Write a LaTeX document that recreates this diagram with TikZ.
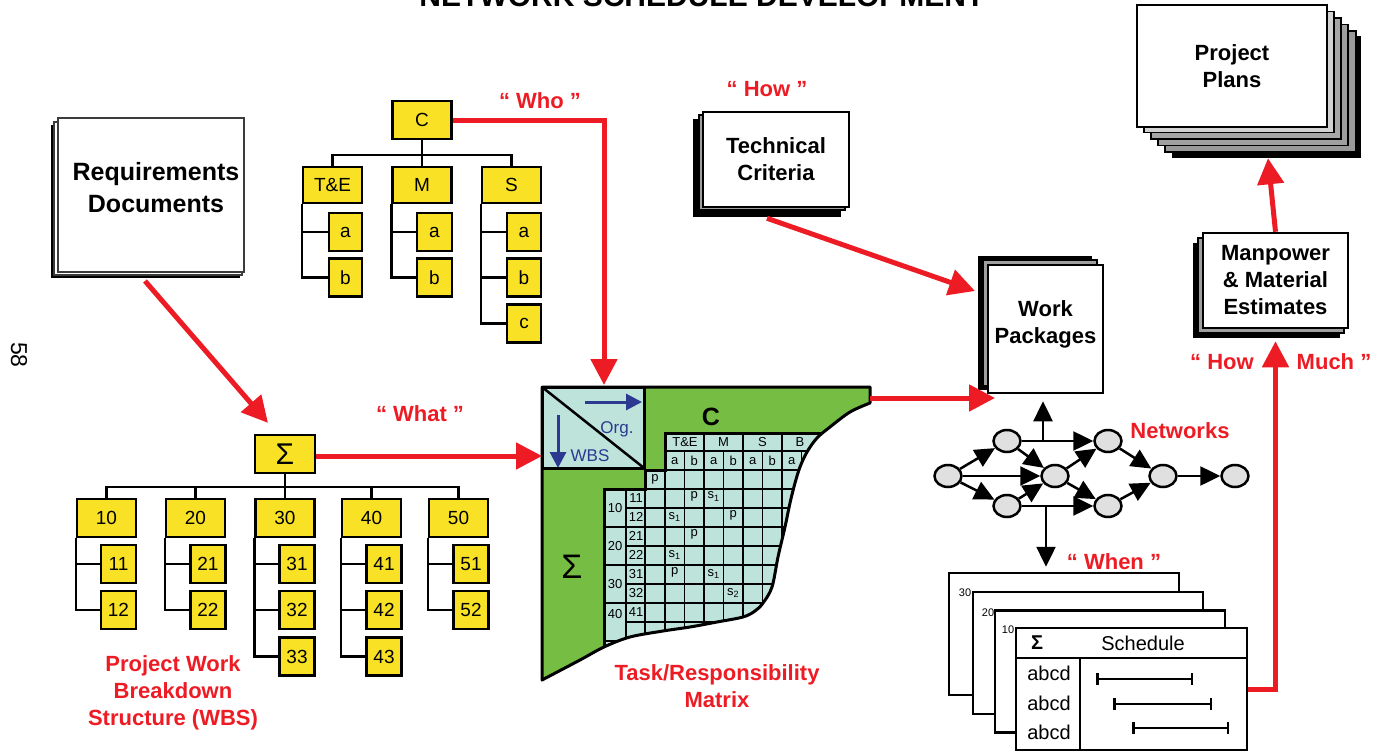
\documentclass[tikz,border=0pt]{standalone}
\usepackage{fontspec}
\setmainfont{Liberation Sans}
\usetikzlibrary{arrows.meta,shapes.geometric,calc}
\definecolor{rd}{RGB}{237,28,36}
\definecolor{ylw}{RGB}{249,226,38}
\definecolor{grn}{RGB}{118,189,67}
\definecolor{cyn}{RGB}{189,227,219}
\definecolor{bl}{RGB}{43,57,144}
\definecolor{ngray}{RGB}{224,224,224}
\definecolor{dgray}{RGB}{60,60,60}
\begin{document}
\begin{tikzpicture}[x=1pt,y=-1pt,
 conn/.style={line width=2.2pt},
 ybox/.style={draw, fill=ylw, line width=2.2pt, inner sep=0pt, font=\fontsize{19}{19}\selectfont},
 ytop/.style={ybox, minimum width=59pt, minimum height=38pt},
 ysub/.style={ybox, minimum width=35pt, minimum height=38pt},
 rarrow/.style={draw=rd, line width=5pt, -{Triangle[length=26pt,width=26pt]}},
 narrow/.style={line width=2.5pt, -{Triangle[length=20pt,width=19pt]}},
 barrow/.style={draw=bl, line width=3pt, -{Triangle[length=16pt,width=16pt]}},
 rlabel/.style={text=rd, font=\fontsize{22}{27}\selectfont\bfseries, align=center},
 blabel/.style={font=\fontsize{22}{27}\selectfont\bfseries, align=center},
 frontbox/.style={draw, line width=2.5pt, fill=white, inner sep=0pt},
 layer/.style={draw, line width=1.8pt},
 net/.style={ellipse, draw, fill=ngray, line width=2.5pt, minimum width=27pt, minimum height=22pt, inner sep=0pt},
 mtext/.style={font=\fontsize{13}{13}\selectfont, inner sep=0pt},
 sheet/.style={draw, line width=2.5pt, fill=white, minimum width=230pt, minimum height=122pt, inner sep=0pt},
 stxt/.style={font=\fontsize{20}{20}\selectfont, inner sep=0pt},
]
\useasboundingbox (0,0) rectangle (1374,752);

% title and page number
\node[anchor=base, font=\fontsize{30}{30}\selectfont\bfseries] (title) at (702,7) {NETWORK SCHEDULE DEVELOPMENT};
\node[rotate=-90, font=\fontsize{23}{23}\selectfont] (pg) at (19,355) {58};

% ---------- Requirements Documents ----------
\fill[black] (51,125) rectangle (240,278);
\draw[draw=dgray, line width=1.5pt, fill=white] (54,122) rectangle (242,275);
\node[frontbox, draw=dgray, line width=2pt, minimum width=186pt, minimum height=154pt] (Req) at (151,195) {};
\node[blabel, font=\fontsize{25}{32}\selectfont\bfseries] (ReqT) at (156,188) {Requirements\\Documents};

% ---------- Org chart ----------
\node[ytop] (C) at (422,120) {C};
\node[ytop, minimum height=36pt] (TE) at (332.5,185) {T\&E};
\node[ytop, minimum height=36pt] (M) at (422,185) {M};
\node[ytop, minimum height=36pt] (S) at (511.5,185) {S};
\node[ysub, minimum width=33pt] (TEa) at (345.5,232) {a};
\node[ysub, minimum width=33pt] (TEb) at (345.5,277.5) {b};
\node[ysub, minimum width=35pt] (Ma) at (434.5,232) {a};
\node[ysub, minimum width=35pt] (Mb) at (434.5,277.5) {b};
\node[ysub, minimum width=34pt] (Sa) at (524,232) {a};
\node[ysub, minimum width=34pt] (Sb) at (524,277.5) {b};
\node[ysub, minimum width=34pt] (Sc) at (524,323.5) {c};
\draw[conn] (C) -- (M);
\draw[conn] (TE.north) -- ++(0,-11) -| (S.north);
\draw[conn] (TE.south west) |- (TEb.west);
\draw[conn] (TEa.west) -- (TEa.west -| TE.west);
\draw[conn] (M.south west) |- (Mb.west);
\draw[conn] (Ma.west) -- (Ma.west -| M.west);
\draw[conn] (S.south west) |- (Sc.west);
\draw[conn] (Sa.west) -- (Sa.west -| S.west);
\draw[conn] (Sb.west) -- (Sb.west -| S.west);

% ---------- WBS ----------
\node[ybox, minimum width=60pt, minimum height=38pt, font=\fontsize{30}{30}\selectfont] (Sig) at (285,454) {Σ};
\node[ytop] (W10) at (106.5,518) {10};
\node[ytop] (W20) at (195.5,518) {20};
\node[ytop] (W30) at (285,518) {30};
\node[ytop] (W40) at (371.5,518) {40};
\node[ytop] (W50) at (458.5,518) {50};
\node[ysub] (W11) at (118.5,564) {11};
\node[ysub] (W12) at (118.5,610) {12};
\node[ysub] (W21) at (208,564) {21};
\node[ysub] (W22) at (208,610) {22};
\node[ysub] (W31) at (297,564) {31};
\node[ysub] (W32) at (297,610) {32};
\node[ysub] (W33) at (297,656.5) {33};
\node[ysub] (W41) at (384,564) {41};
\node[ysub] (W42) at (384,610) {42};
\node[ysub] (W43) at (384,656.5) {43};
\node[ysub] (W51) at (471,564) {51};
\node[ysub] (W52) at (471,610) {52};
\draw[conn] (Sig) -- (W30);
\draw[conn] (W10.north) -- ++(0,-11) -| (W50.north);
\draw[conn] (W20.north) -- ++(0,-11);
\draw[conn] (W40.north) -- ++(0,-11);
\draw[conn] (W10.south west) |- (W12.west);
\draw[conn] (W11.west) -- (W11.west -| W10.west);
\draw[conn] (W20.south west) |- (W22.west);
\draw[conn] (W21.west) -- (W21.west -| W20.west);
\draw[conn] (W30.south west) |- (W33.west);
\draw[conn] (W31.west) -- (W31.west -| W30.west);
\draw[conn] (W32.west) -- (W32.west -| W30.west);
\draw[conn] (W40.south west) |- (W43.west);
\draw[conn] (W41.west) -- (W41.west -| W40.west);
\draw[conn] (W42.west) -- (W42.west -| W40.west);
\draw[conn] (W50.south west) |- (W52.west);
\draw[conn] (W51.west) -- (W51.west -| W50.west);

% ---------- Matrix ----------
\def\outerpath{(542,387) -- (870,387) -- (870,403) -- plot[smooth, tension=0.55] coordinates {(870,403) (850,412) (830,427) (817,438) (807,452) (800,467) (795,483) (790,503) (785,527) (778,557) (772,587) (763,603) (755,611) (743,617) (717,622) (690,627) (663,631) (630,637) (604,647) (580,660) (542,680)} -- cycle}
\fill[grn] \outerpath;
\begin{scope}
 \clip \outerpath;
 \begin{scope}
  \clip (665,433) -- (950,433) -- (950,720) -- (604,720) -- (604,489) -- (645,489) -- (645,470) -- (665,470) -- cycle;
  \fill[cyn] (600,430) rectangle (950,720);
  \begin{scope}[line width=1.8pt]
   \draw (665,451) -- (950,451);
   \draw (645,470) -- (950,470);
   \draw (604,489) -- (950,489);
   \foreach \k in {1,...,8}{
     \pgfmathsetmacro\yy{489+18.95*\k}
     \ifodd\k \draw (626,\yy) -- (950,\yy); \else \draw (604,\yy) -- (950,\yy); \fi
   }
   \draw (626,489) -- (626,720);
   \draw (645,470) -- (645,720);
   \foreach \j in {0,...,10}{
     \pgfmathsetmacro\xx{665+19.5*\j}
     \ifodd\j \draw (\xx,451) -- (\xx,720); \else \draw (\xx,433) -- (\xx,720); \fi
   }
  \end{scope}
 \end{scope}
 \draw[line width=3pt] (604,720) -- (604,489) -- (645,489) -- (645,470) -- (665,470) -- (665,433) -- (950,433);
\end{scope}
\draw[line width=3pt, fill=cyn] (542,387) rectangle (644,468);
\draw[line width=2.5pt] (542,387) -- (644,468);
\draw[line width=3pt, line join=round] \outerpath;
\coordinate (oa1) at (585,402);
\coordinate (oa2) at (642,402);
\coordinate (wa1) at (558,415);
\coordinate (wa2) at (558,468);
\draw[barrow] (oa1) -- (oa2);
\draw[barrow] (wa1) -- (wa2);
\node[text=bl, font=\fontsize{17}{17}\selectfont] (org) at (617,429) {Org.};
\node[text=bl, font=\fontsize{17}{17}\selectfont] (wbs) at (590,456) {WBS};
\node[font=\fontsize{25}{25}\selectfont\bfseries] (mc) at (711,417) {C};
\node[font=\fontsize{34}{34}\selectfont] (ms) at (572,567) {Σ};
% header
\node[mtext] at (685,442) {T\&E};
\node[mtext] at (723.5,442) {M};
\node[mtext] at (762.5,442) {S};
\node[mtext] at (800,442) {B};
\foreach \t [count=\i from 0] in {a,b,a,b,a,b,a}{
  \node[mtext] at ({674.75+19.5*\i},461) {\t};
}
\node[mtext] at (655,479.5) {p};
% row labels
\node[mtext] at (615,508) {10};
\node[mtext] at (615,546) {20};
\node[mtext] at (615,584) {30};
\node[mtext] at (615,614) {40};
\foreach \t [count=\i from 0] in {11,12,21,22,31,32,41}{
  \node[mtext] at (636,{498.5+18.95*\i}) {\t};
}
% entries
\node[mtext] at (694.25,496.5) {p};
\node[mtext] at (713.75,496.5) {s\textsubscript{1}};
\node[mtext] at (674.75,517.4) {s\textsubscript{1}};
\node[mtext] at (733.25,515.4) {p};
\node[mtext] at (694.25,534.4) {p};
\node[mtext] at (674.75,555.3) {s\textsubscript{1}};
\node[mtext] at (674.75,572.3) {p};
\node[mtext] at (713.75,574.3) {s\textsubscript{1}};
\node[mtext] at (733.25,593.2) {s\textsubscript{2}};

% ---------- Technical Criteria ----------
\fill[black] (693,119) rectangle (841,217);
\draw[layer, fill=gray!75] (699,115) rectangle (845,210);
\node[frontbox, blabel, minimum width=146pt, minimum height=95pt] (TC) at (776,159.5) {Technical\\Criteria};

% ---------- Work Packages ----------
\fill[black] (978,256) rectangle (1092,390);
\draw[layer, fill=gray!75] (983,260) rectangle (1097,386);
\node[frontbox, minimum width=115pt, minimum height=128pt] (WP) at (1045.5,329) {};
\node[blabel] (WPt) at (1045.5,324) {Work\\Packages};

% ---------- Manpower ----------
\fill[black] (1193,243) rectangle (1340,338);
\draw[layer, fill=gray!75] (1198,238) rectangle (1344,333);
\node[frontbox, blabel, minimum width=145pt, minimum height=95pt] (MP) at (1275.5,280.5) {Manpower\\\& Material\\Estimates};

% ---------- Project Plans ----------
\fill[black] (1172,36) rectangle (1361,158);
\draw[layer, fill=gray!80] (1165,31) rectangle (1356,152);
\draw[layer, fill=gray!75] (1158,24.5) rectangle (1348,145.5);
\draw[layer, fill=gray!70] (1151,18) rectangle (1341,139);
\draw[layer, fill=gray!35] (1144,11.5) rectangle (1334,132.5);
\node[frontbox, blabel, minimum width=190pt, minimum height=122pt] (PP) at (1232,66) {Project\\Plans};

% ---------- Networks ----------
\node[net] (n0) at (948,476) {};
\node[net] (n1) at (1007,441) {};
\node[net] (n2) at (1007,506) {};
\node[net] (n3) at (1055,476) {};
\node[net] (n4) at (1108,441) {};
\node[net] (n5) at (1108,506) {};
\node[net] (n6) at (1163,476) {};
\node[net] (n7) at (1235,476) {};
\draw[narrow] (n0) -- (n1);
\draw[narrow] (n0) -- (n2);
\draw[narrow] (n0) -- (n3);
\draw[narrow] (n1) -- (n3);
\draw[narrow] (n2) -- (n3);
\draw[narrow] (n1) -- (n4);
\draw[narrow] (n2) -- (n5);
\draw[narrow] (n3) -- (n4);
\draw[narrow] (n3) -- (n5);
\draw[narrow] (n4) -- (n6);
\draw[narrow] (n5) -- (n6);
\draw[narrow] (n6) -- (n7);

% ---------- Schedule sheets ----------
\node[sheet] (Sh30) at (1064,634) {};
\node[font=\fontsize{11}{11}\selectfont] at (965,593) {30};
\node[sheet] (Sh20) at (1088,653) {};
\node[font=\fontsize{11}{11}\selectfont] at (988,613) {20};
\node[sheet] (Sh10) at (1110,671.5) {};
\node[font=\fontsize{11}{11}\selectfont] at (1008,630) {10};
\node[sheet, minimum width=231pt] (Sch) at (1131.5,689) {};
\draw[line width=2.5pt] (Sch.west |- 0,658) -- (Sch.east |- 0,658);
\draw[line width=2.5pt] (1080,658) -- (1080,750);
\node[stxt, font=\fontsize{20}{20}\selectfont\bfseries] at (1037,643) {Σ};
\node[stxt] at (1143,643) {Schedule};
\node[stxt] at (1049,673) {abcd};
\node[stxt] at (1049,703) {abcd};
\node[stxt] at (1049,732) {abcd};
\draw[line width=2.5pt, {Bar[width=12pt]}-{Bar[width=12pt]}] (1096,679) -- (1193,679);
\draw[line width=2.5pt, {Bar[width=12pt]}-{Bar[width=12pt]}] (1113,704) -- (1212,704);
\draw[line width=2.5pt, {Bar[width=12pt]}-{Bar[width=12pt]}] (1132,728) -- (1229,728);

% network <-> packages / schedule
\coordinate (nu) at (1043,441);
\coordinate (nd) at (1046,506);
\draw[narrow] (nu) -- ([xshift=-2.5pt,yshift=-7pt]WP.south);
\draw[narrow] (nd) -- ([xshift=-18pt,yshift=5pt]Sh30.north);

% ---------- red arrows ----------
\coordinate (mtop) at (604,385);
\coordinate (mleft) at (542,456);
\coordinate (mright) at (870,398);
\coordinate (wpin) at (995,398);
\coordinate (wptop) at (975,291);
\draw[rarrow] ([xshift=-6pt,yshift=-8pt]Req.south) -- ([xshift=-17pt,yshift=11pt]Sig.north);
\draw[rarrow] (C.east) -| (mtop);
\draw[rarrow] (Sig.east |- mleft) -- (mleft);
\draw[rarrow] ([xshift=-9pt,yshift=-10pt]TC.south) -- (wptop);
\draw[rarrow] (mright) -- (wpin);
\draw[rarrow] (Sch.east) -| ([yshift=-12pt]MP.south);
\draw[rarrow] (MP.north) -- ([xshift=36pt,yshift=-30pt]PP.south);

% ---------- red labels ----------
\node[rlabel] (lwho) at (540,101) {“ Who ”};
\node[rlabel] (lhow) at (767,89) {“ How ”};
\node[rlabel] (lwhat) at (420,414) {“ What ”};
\node[rlabel] (lwhen) at (1114,562) {“ When ”};
\node[rlabel] (lhow2) at (1222,362) {“ How};
\node[rlabel] (lmuch) at (1334,362) {Much ”};
\node[rlabel] (lnet) at (1180,431) {Networks};
\node[rlabel] (ltrm) at (717,686.5) {Task/Responsibility\\Matrix};
\node[rlabel] (lwbs) at (173,692.5) {Project Work\\Breakdown\\Structure (WBS)};
\end{tikzpicture}
\end{document}
